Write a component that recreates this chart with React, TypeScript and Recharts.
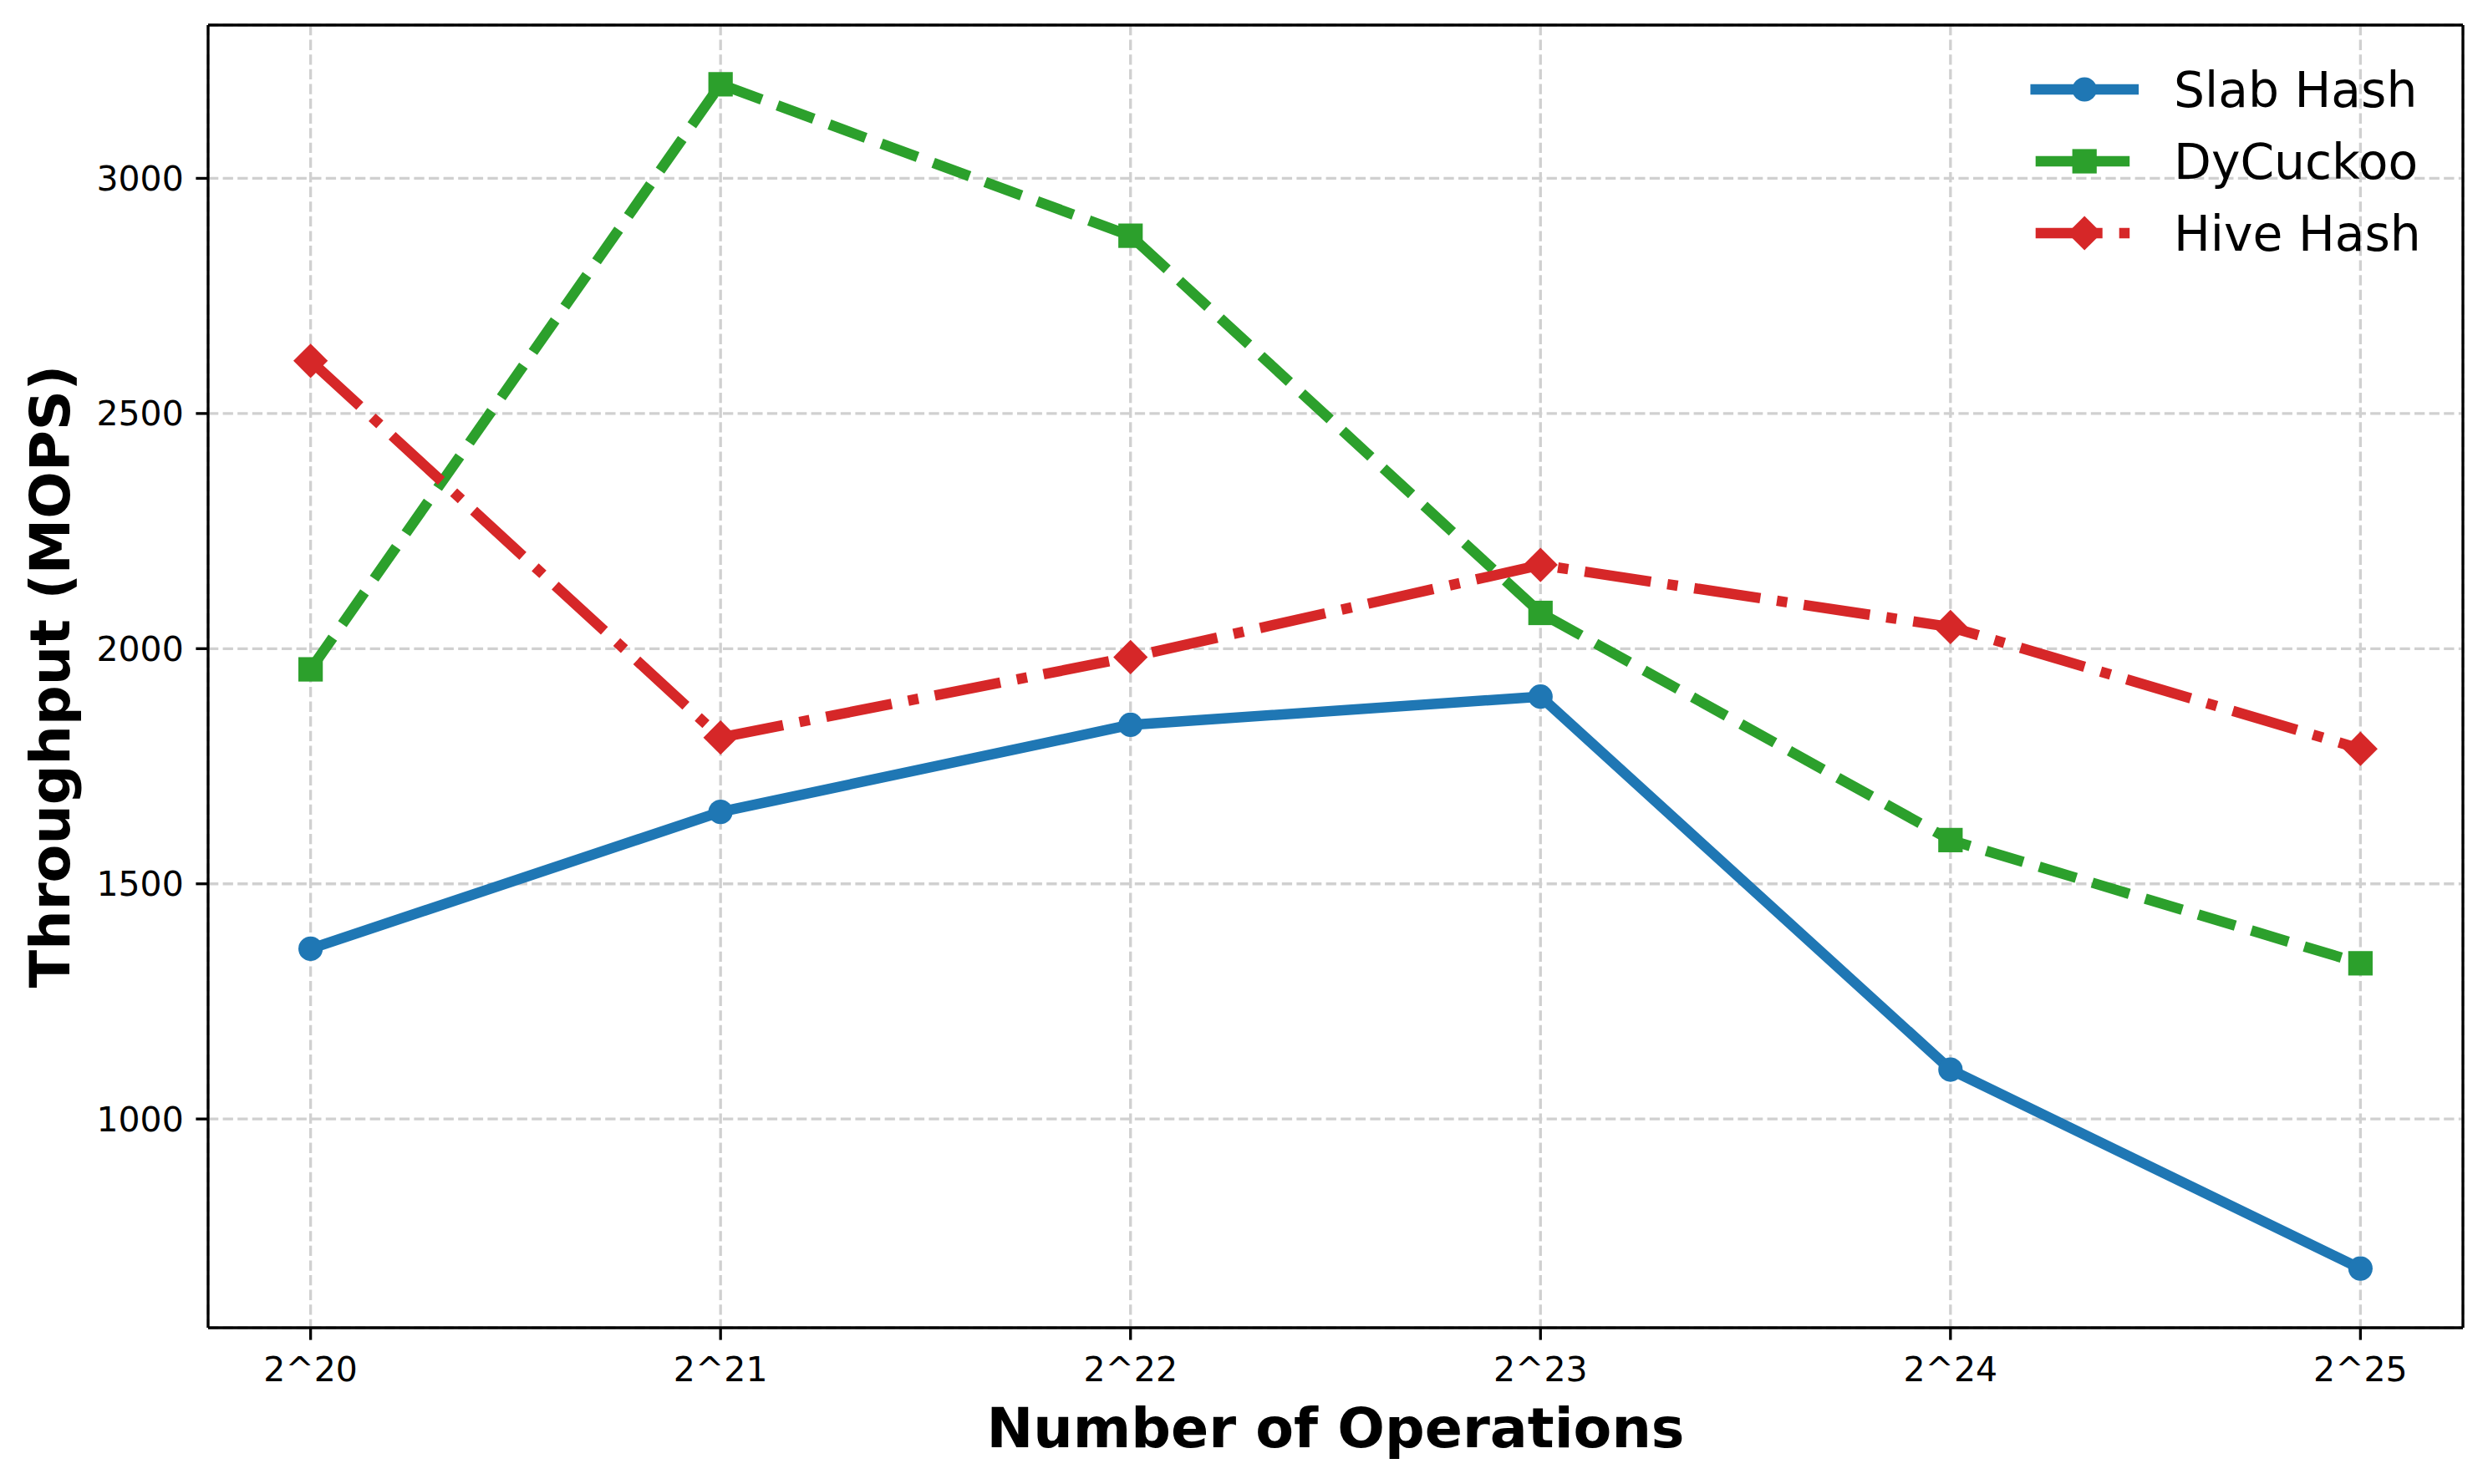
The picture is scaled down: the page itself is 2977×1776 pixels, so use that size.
import React from 'react';
import { LineChart, Line, XAxis, YAxis, CartesianGrid, Legend } from 'recharts';

// ---- data ----
const categories = ['2^20', '2^21', '2^22', '2^23', '2^24', '2^25'];
const slabHash = [1362, 1653, 1838, 1898, 1105, 682];
const dyCuckoo = [1956, 3200, 2878, 2076, 1593, 1331];
const hiveHash = [2612, 1811, 1982, 2178, 2046, 1787];
const yTicks = [1000, 1500, 2000, 2500, 3000];
const seriesNames = ['Slab Hash', 'DyCuckoo', 'Hive Hash'];

const rows = categories.map((c, i) => ({
  x: i,
  label: c,
  slab: slabHash[i],
  dy: dyCuckoo[i],
  hive: hiveHash[i],
}));

const allVals = [...slabHash, ...dyCuckoo, ...hiveHash];
const vMin = Math.min(...allVals);
const vMax = Math.max(...allVals);
const vPad = (vMax - vMin) * 0.05;
const yDomain = [vMin - vPad, vMax + vPad];
const xDomain = [-0.25, categories.length - 1 + 0.25];
const xTicks = categories.map((_, i) => i);

// ---- styles ----
const FONT = 'DejaVu Sans';
const LW = 12.5;
const BLUE = '#1f77b4';
const GREEN = '#2ca02c';
const RED = '#d62728';
const GREEN_DASH = '46.25 20';
const RED_DASH = '80 20 12.5 20';
const FRAME = 3.33;
const TICK = 14.6;

type Marker = 'circle' | 'square' | 'diamond';

function drawMarker(kind: Marker, cx: number, cy: number, color: string, key?: any) {
  if (kind === 'circle') {
    return <circle key={key} cx={cx} cy={cy} r={14.6} fill={color} stroke="none" />;
  }
  if (kind === 'square') {
    return <rect key={key} x={cx - 14.6} y={cy - 14.6} width={29.2} height={29.2} fill={color} stroke="none" />;
  }
  const h = 20.6;
  return (
    <polygon
      key={key}
      points={`${cx},${cy - h} ${cx + h},${cy} ${cx},${cy + h} ${cx - h},${cy}`}
      fill={color}
      stroke="none"
    />
  );
}

const seriesCfg = [
  { key: 'slab', name: seriesNames[0], color: BLUE, dash: undefined as string | undefined, cap: 'square', marker: 'circle' as Marker },
  { key: 'dy', name: seriesNames[1], color: GREEN, dash: GREEN_DASH, cap: 'butt', marker: 'square' as Marker },
  { key: 'hive', name: seriesNames[2], color: RED, dash: RED_DASH, cap: 'butt', marker: 'diamond' as Marker },
];

function LegendContent() {
  return (
    <svg width={557} height={270} style={{ display: 'block', overflow: 'visible' }}>
      {seriesCfg.map((s, i) => {
        const cy = 47 + 86 * i;
        return (
          <g key={s.key}>
            <line
              x1={15.7}
              x2={132.8}
              y1={cy}
              y2={cy}
              stroke={s.color}
              strokeWidth={LW}
              strokeDasharray={s.dash}
              strokeLinecap={s.cap as any}
            />
            {drawMarker(s.marker, 74.2, cy, s.color)}
            <text x={181} y={cy + 21} fontFamily={FONT} fontSize={58.3} fill="#000">
              {s.name}
            </text>
          </g>
        );
      })}
    </svg>
  );
}

const YLabel = (props: any) => {
  const vb = props.viewBox || { x: 0, y: 30, width: 249, height: 1559 };
  const bx = vb.x + 83;
  const cy = vb.y + vb.height / 2;
  return (
    <text
      x={bx}
      y={cy}
      transform={`rotate(-90, ${bx}, ${cy})`}
      textAnchor="middle"
      fontFamily={FONT}
      fontWeight="bold"
      fontSize={66.7}
      fill="#000"
    >
      Throughput (MOPS)
    </text>
  );
};

const XLabel = (props: any) => {
  const vb = props.viewBox || { x: 249, y: 1589, width: 2698, height: 187 };
  return (
    <text
      x={vb.x + vb.width / 2}
      y={vb.y + 143}
      textAnchor="middle"
      fontFamily={FONT}
      fontWeight="bold"
      fontSize={66.7}
      fill="#000"
    >
      Number of Operations
    </text>
  );
};

export default function App() {
  return (
    <div style={{ position: 'absolute', left: 0, top: 0, width: 2977, height: 1776, background: '#fff' }}>
      <LineChart
        width={2977}
        height={1776}
        data={rows}
        margin={{ top: 29, right: 29, bottom: 0, left: 0 }}
      >
        <CartesianGrid
          stroke="#d0d0d0"
          strokeWidth={3.33}
          strokeDasharray="12.3 5.3"
          vertical
          horizontal
        />
        <XAxis
          dataKey="x"
          type="number"
          domain={xDomain}
          ticks={xTicks}
          interval={0}
          allowDataOverflow
          height={187}
          tickFormatter={(v: number) => categories[v]}
          tick={{ fontFamily: FONT, fontSize: 41, fill: '#000' }}
          tickSize={TICK}
          tickMargin={20}
          tickLine={{ stroke: '#000', strokeWidth: FRAME }}
          axisLine={{ stroke: '#000', strokeWidth: FRAME }}
          label={<XLabel />}
        />
        <XAxis
          xAxisId="top"
          orientation="top"
          dataKey="x"
          type="number"
          domain={xDomain}
          ticks={xTicks}
          allowDataOverflow
          height={1}
          tick={false}
          tickLine={false}
          axisLine={{ stroke: '#000', strokeWidth: FRAME }}
        />
        <YAxis
          type="number"
          domain={yDomain}
          ticks={yTicks}
          interval={0}
          allowDataOverflow
          width={249}
          tick={{ fontFamily: FONT, fontSize: 41, fill: '#000' }}
          tickSize={TICK}
          tickMargin={TICK}
          tickLine={{ stroke: '#000', strokeWidth: FRAME }}
          axisLine={{ stroke: '#000', strokeWidth: FRAME }}
          label={<YLabel />}
        />
        <YAxis
          yAxisId="right"
          orientation="right"
          type="number"
          domain={yDomain}
          ticks={yTicks}
          allowDataOverflow
          width={1}
          tick={false}
          tickLine={false}
          axisLine={{ stroke: '#000', strokeWidth: FRAME }}
        />
        {seriesCfg.map((s) => (
          <Line
            key={s.key}
            type="linear"
            dataKey={s.key}
            name={s.name}
            stroke={s.color}
            strokeWidth={LW}
            strokeDasharray={s.dash}
            strokeLinecap={s.cap as any}
            strokeLinejoin="round"
            isAnimationActive={false}
            activeDot={false}
            dot={(p: any) => drawMarker(s.marker, p.cx, p.cy, s.color, `${s.key}-${p.index}`)}
          />
        ))}
        <Legend
          layout="vertical"
          align="center"
          verticalAlign="middle"
          wrapperStyle={{ position: 'absolute', left: 2420, top: 60, width: 557, height: 270 }}
          content={() => <LegendContent />}
        />
      </LineChart>
    </div>
  );
}
